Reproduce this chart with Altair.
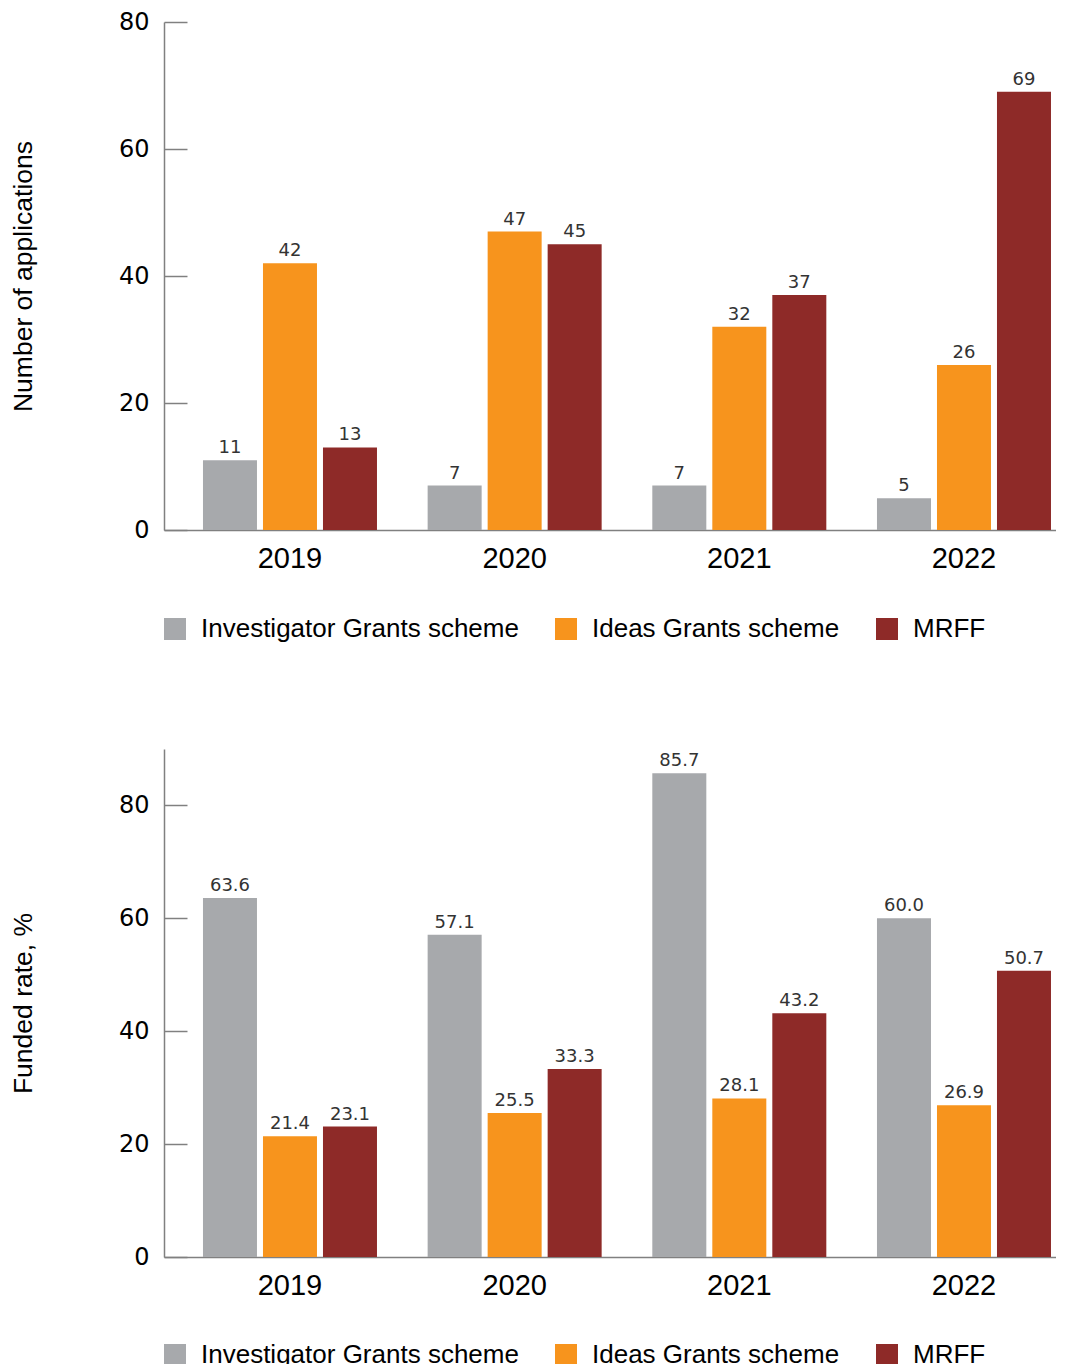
import altair as alt
import pandas as pd

years = ["2019", "2020", "2021", "2022"]
schemes = ["Investigator Grants scheme", "Ideas Grants scheme", "MRFF"]
colors = ["#A7A9AC", "#F7941D", "#8E2A28"]

apps_investigator = [11, 7, 7, 5]
apps_ideas = [42, 47, 32, 26]
apps_mrff = [13, 45, 37, 69]

rate_investigator = [63.6, 57.1, 85.7, 60.0]
rate_ideas = [21.4, 25.5, 28.1, 26.9]
rate_mrff = [23.1, 33.3, 43.2, 50.7]

NARROW = "Liberation Sans"
TICKFONT = "DejaVu Sans"
TITLEFONT = "Liberation Sans"


def make_df(a, b, c):
    rows = []
    for s, vals in zip(schemes, [a, b, c]):
        for y, v in zip(years, vals):
            rows.append({"Year": y, "Scheme": s, "Value": v})
    return pd.DataFrame(rows)


df_apps = make_df(apps_investigator, apps_ideas, apps_mrff)
df_rate = make_df(rate_investigator, rate_ideas, rate_mrff)


def panel(df, ytitle, domain, fmt, legend_y):
    base = alt.Chart(df).encode(
        x=alt.X(
            "Year:N",
            sort=years,
            scale=alt.Scale(paddingInner=0.2255, paddingOuter=0.0979, align=0.886),
            axis=alt.Axis(
                title=None,
                labelAngle=0,
                ticks=False,
                labelPadding=14,
                labelFont=NARROW,
                labelFontSize=29,
                labelColor="black",
                domainColor="#808080",
                domainWidth=1.5,
                grid=False,
            ),
        ),
        xOffset=alt.XOffset(
            "Scheme:N", sort=schemes, scale=alt.Scale(paddingInner=0.1, paddingOuter=0)
        ),
        y=alt.Y(
            "Value:Q",
            scale=alt.Scale(domain=domain, nice=False),
            axis=alt.Axis(
                values=[0, 20, 40, 60, 80],
                title=ytitle,
                titleFont=TITLEFONT,
                titleFontSize=26.5,
                titleFontWeight="normal",
                titleColor="black",
                titlePadding=81,
                labelFont=TICKFONT,
                labelFontSize=24,
                labelColor="black",
                labelPadding=15,
                ticks=False,
                grid=True,
                gridDash=[23, 2000],
                gridColor="#808080",
                gridWidth=1.5,
                domainColor="#808080",
                domainWidth=1.5,
            ),
        ),
    )
    bars = base.mark_bar().encode(
        color=alt.Color(
            "Scheme:N",
            sort=schemes,
            scale=alt.Scale(domain=schemes, range=colors),
            legend=alt.Legend(
                orient="none",
                legendX=-2,
                legendY=legend_y,
                direction="horizontal",
                title=None,
                symbolType="square",
                symbolSize=484,
                symbolStrokeWidth=0,
                symbolOpacity=1,
                labelFont=NARROW,
                labelFontSize=26,
                labelColor="black",
                labelOffset=13,
                columnPadding=34,
                labelLimit=1000,
            ),
        )
    )
    text = base.mark_text(
        dy=-7, baseline="alphabetic", font=TICKFONT, fontSize=18, color="#333333"
    ).encode(text=alt.Text("Value:Q", format=fmt))
    return alt.layer(bars, text).properties(width=892, height=508)


top = panel(df_apps, "Number of applications", [0, 80], "d", 594)
bottom = panel(df_rate, "Funded rate, %", [0, 90], ".1f", 593)

chart = (
    alt.vconcat(top, bottom, spacing=107)
    .resolve_legend(color="independent")
    .resolve_scale(y="independent")
    .properties(padding={"left": 2, "top": 2, "right": 0, "bottom": -4})
    .configure(background="white")
    .configure_view(strokeWidth=0, stroke="transparent")
)

chart.save("out.html", embed_options={"renderer": "svg", "actions": False})
